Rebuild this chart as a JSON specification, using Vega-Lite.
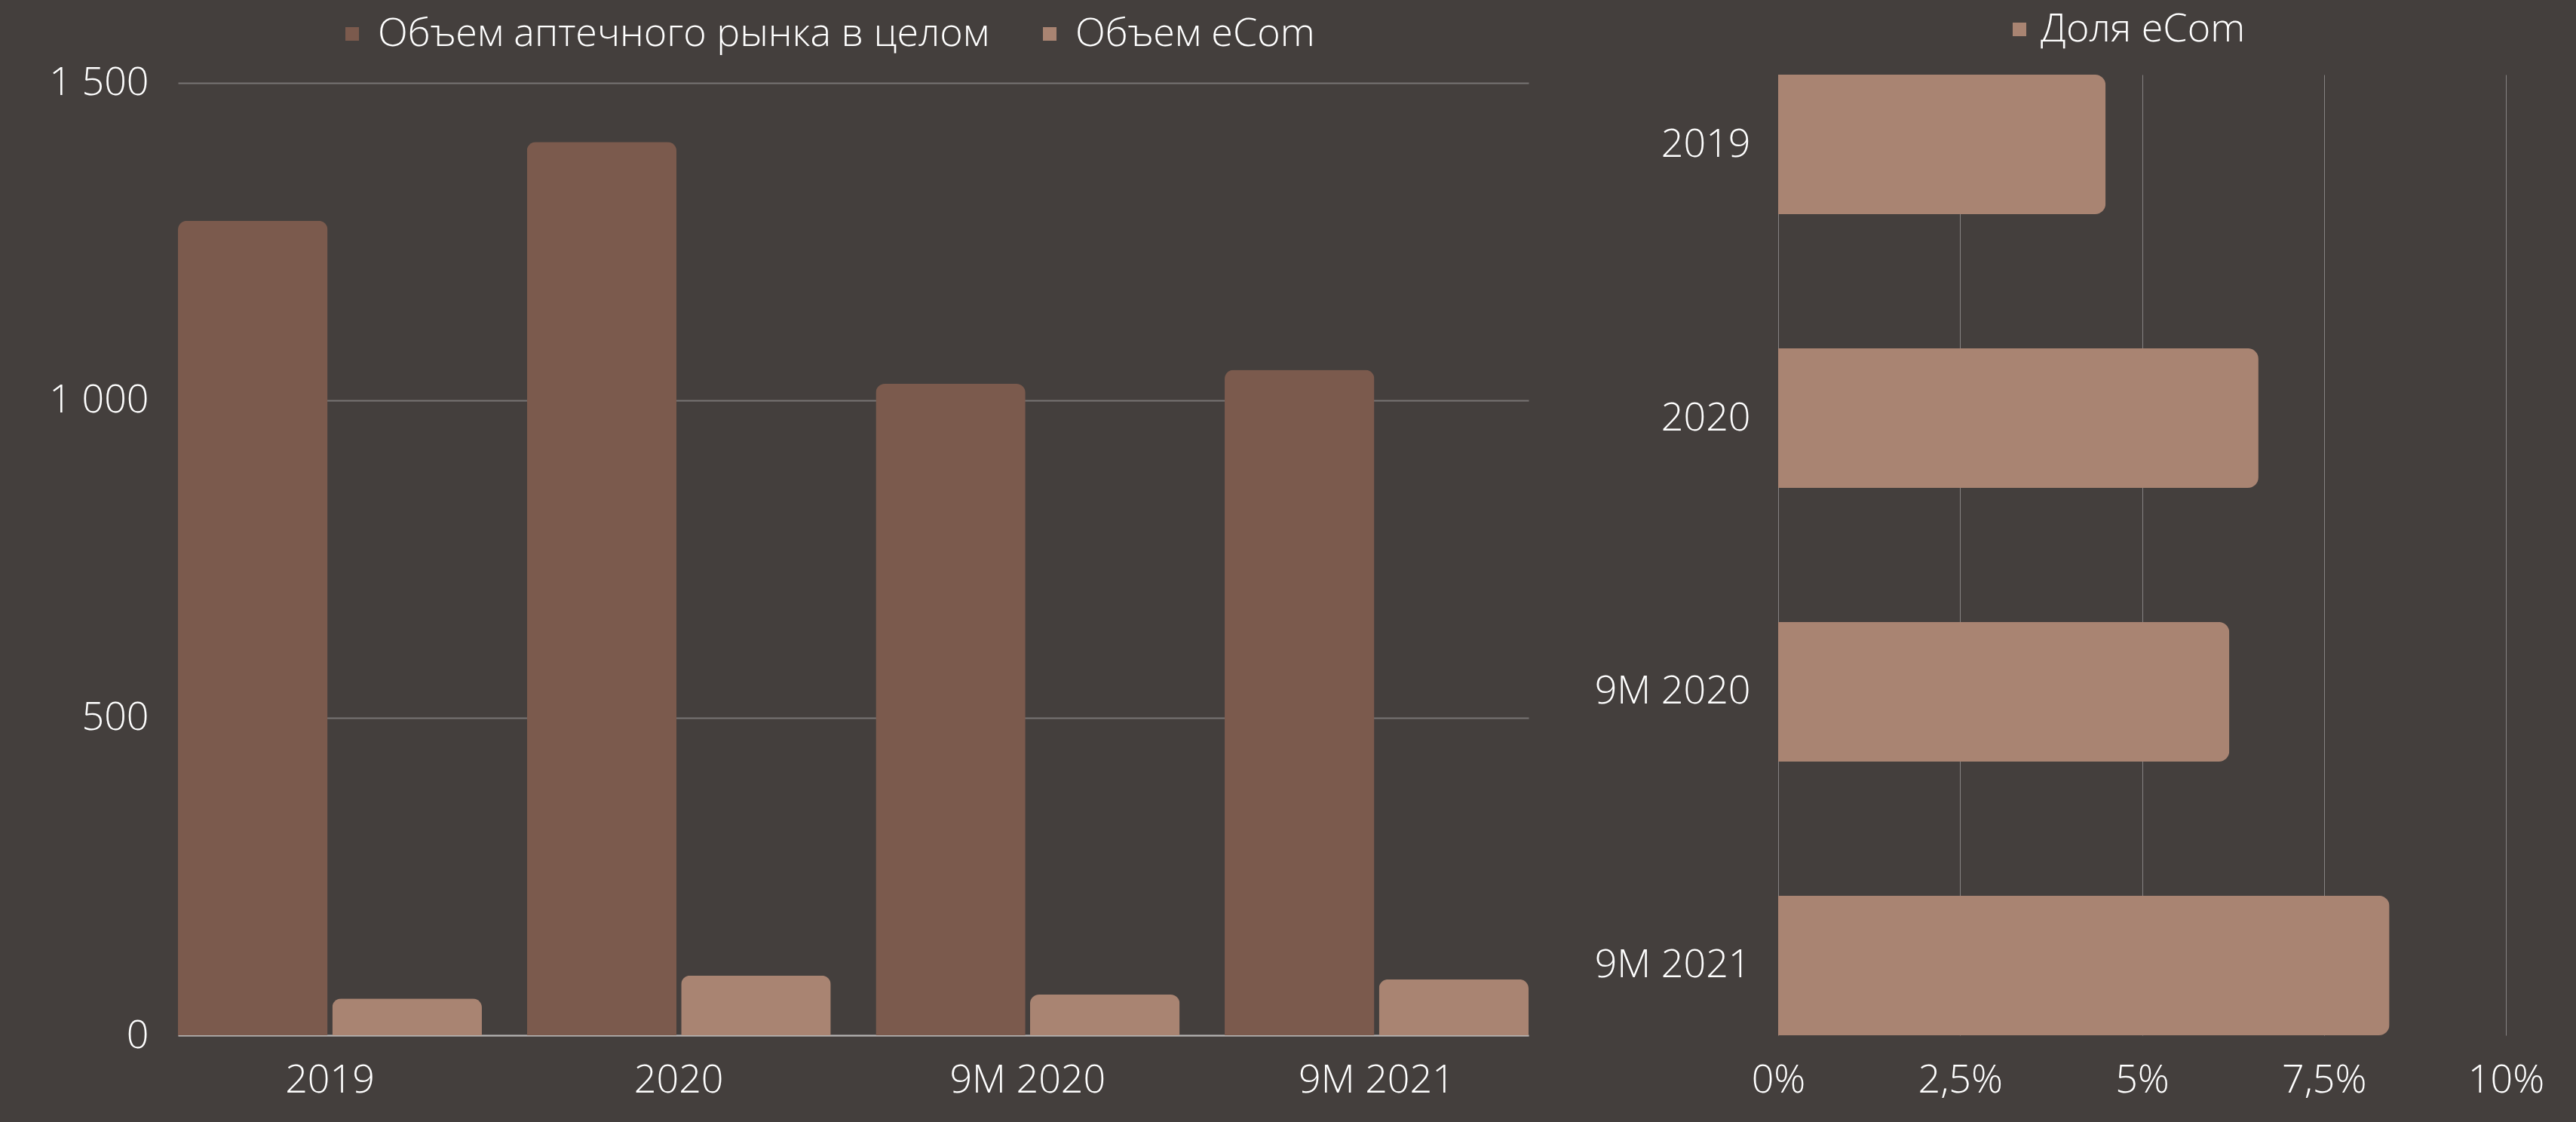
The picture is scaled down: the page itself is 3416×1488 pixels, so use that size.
{
  "$schema": "https://vega.github.io/schema/vega-lite/v6.json",
  "background": "#443f3d",
  "padding": {"left": 64, "top": 13, "right": 44, "bottom": 31},
  "bounds": "flush",
  "spacing": 331,
  "config": {
    "font": "Open Sans",
    "view": {"stroke": null},
    "axis": {"labelFont": "Open Sans", "labelFontWeight": 300, "labelColor": "#ffffff", "labelFontSize": 52, "ticks": false, "title": null, "labelLimit": 0, "labelOverlap": false, "labelFlush": false},
    "legend": {"labelFont": "Open Sans", "labelFontWeight": 300, "labelColor": "#ffffff", "labelFontSize": 52, "padding": 0, "labelLimit": 0, "offset": 0}
  },
  "datasets": {
    "volumes": [
      {"period": "2019", "series": "Объем аптечного рынка в целом", "value": 1283},
      {"period": "2019", "series": "Объем eCom", "value": 58},
      {"period": "2020", "series": "Объем аптечного рынка в целом", "value": 1407},
      {"period": "2020", "series": "Объем eCom", "value": 94},
      {"period": "9M 2020", "series": "Объем аптечного рынка в целом", "value": 1026},
      {"period": "9M 2020", "series": "Объем eCom", "value": 64},
      {"period": "9M 2021", "series": "Объем аптечного рынка в целом", "value": 1048},
      {"period": "9M 2021", "series": "Объем eCom", "value": 88}
    ],
    "share": [
      {"period": "2019", "series": "Доля eCom", "share": 0.045},
      {"period": "2020", "series": "Доля eCom", "share": 0.066},
      {"period": "9M 2020", "series": "Доля eCom", "share": 0.062},
      {"period": "9M 2021", "series": "Доля eCom", "share": 0.084}
    ]
  },
  "hconcat": [
    {
      "width": 1791,
      "height": 1274,
      "data": {"name": "volumes"},
      "mark": {"type": "bar", "cornerRadiusTopLeft": 12, "cornerRadiusTopRight": 12},
      "encoding": {
        "x": {
          "field": "period", "type": "nominal",
          "sort": ["2019", "2020", "9M 2020", "9M 2021"],
          "scale": {"paddingInner": 0.129, "paddingOuter": 0},
          "axis": {"labelAngle": 0, "labelPadding": 34, "domain": true, "domainColor": "#b8b6b5", "domainWidth": 2, "grid": false}
        },
        "xOffset": {
          "field": "series", "type": "nominal",
          "sort": ["Объем аптечного рынка в целом", "Объем eCom"],
          "scale": {"paddingInner": 0.03, "paddingOuter": 0}
        },
        "y": {
          "field": "value", "type": "quantitative",
          "scale": {"domain": [0, 1513], "nice": false},
          "axis": {"values": [0, 500, 1000, 1500], "labelExpr": "replace(format(datum.value, ',d'), ',', ' ')", "labelPadding": 39, "domain": false, "grid": true, "gridColor": "#787574", "gridWidth": 2}
        },
        "color": {
          "field": "series", "type": "nominal",
          "scale": {"domain": ["Объем аптечного рынка в целом", "Объем eCom"], "range": ["#7b5a4d", "#a98472"]},
          "legend": {"title": null, "orient": "none", "legendX": 205, "legendY": -80, "direction": "horizontal", "symbolType": "square", "symbolSize": 324, "symbolStrokeWidth": 0, "labelOffset": 8, "columnPadding": 54}
        }
      }
    },
    {
      "width": 965,
      "height": 1274,
      "data": {"name": "share"},
      "mark": {"type": "bar", "cornerRadiusEnd": 14},
      "encoding": {
        "y": {
          "field": "period", "type": "nominal",
          "sort": ["2019", "2020", "9M 2020", "9M 2021"],
          "scale": {"paddingInner": 0.49, "paddingOuter": 0},
          "axis": {"labelPadding": 37, "domain": false, "grid": false}
        },
        "x": {
          "field": "share", "type": "quantitative",
          "scale": {"domain": [0, 0.1], "nice": false},
          "axis": {"values": [0, 0.025, 0.05, 0.075, 0.1], "labelExpr": "replace(format(datum.value, '.1~%'), '.', ',')", "labelPadding": 34, "domain": false, "grid": true, "gridColor": "#858282", "gridWidth": 1}
        },
        "color": {
          "field": "series", "type": "nominal",
          "scale": {"domain": ["Доля eCom"], "range": ["#a98472"]},
          "legend": {"title": null, "orient": "none", "legendX": 294, "legendY": -86, "direction": "horizontal", "symbolType": "square", "symbolSize": 324, "symbolStrokeWidth": 0, "labelOffset": 2}
        }
      }
    }
  ],
  "resolve": {"scale": {"color": "independent"}, "legend": {"color": "independent"}}
}
